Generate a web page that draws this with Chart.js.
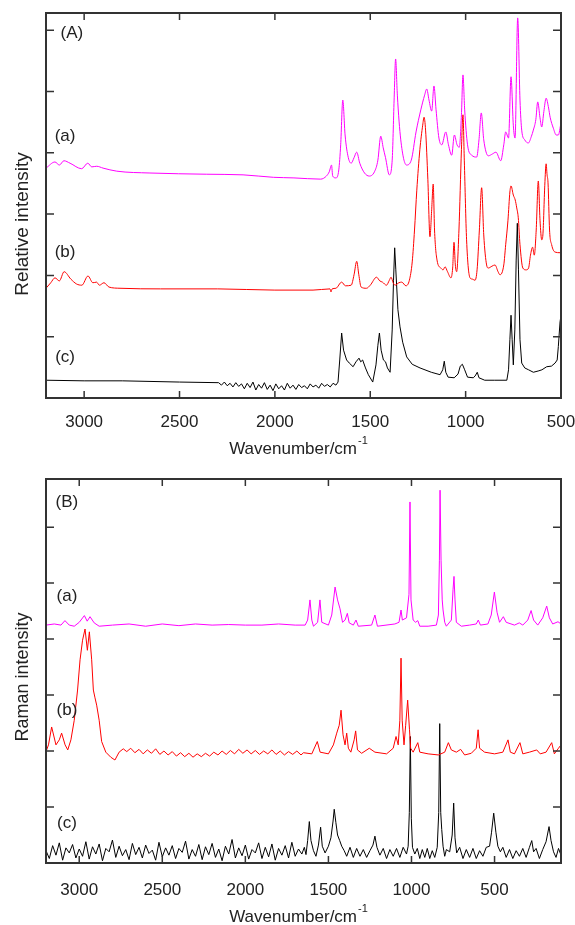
<!DOCTYPE html>
<html>
<head>
<meta charset="utf-8">
<script src="https://cdn.jsdelivr.net/npm/chart.js@4.4.1/dist/chart.umd.min.js"></script>
<style>
  html, body { margin: 0; padding: 0; background: #fff; }
  #wrap { position: relative; width: 575px; height: 925px; }
  canvas { position: absolute; left: 0; }
</style>
</head>
<body>
<div id="wrap">
  <canvas id="irChart" width="575" height="462" style="top:0"></canvas>
  <canvas id="ramanChart" width="575" height="463" style="top:462px"></canvas>
</div>
<script>
// ---- (A) IR spectra, offset traces (a) magenta, (b) red, (c) black ----
var irWnA = [3200, 3153, 3130, 3106, 3074, 3013, 2981, 2960, 2934, 2901, 2829, 2655, 2357, 2167, 2008, 1900, 1760, 1730, 1715, 1703, 1697, 1680, 1665, 1655, 1644, 1632, 1615, 1600, 1585, 1571, 1555, 1530, 1505, 1478, 1460, 1445, 1432, 1420, 1400, 1385, 1375, 1367, 1358, 1340, 1310, 1285, 1260, 1235, 1215, 1204, 1192, 1178, 1166, 1155, 1140, 1125, 1104, 1090, 1073, 1059, 1045, 1033, 1022, 1014, 1005, 990, 968, 942, 930, 918, 905, 881, 860, 841, 816, 800, 790, 775, 762, 750, 741, 727, 715, 706, 690, 671, 655, 645, 632, 622, 610, 601, 590, 578, 565, 557, 540, 525, 514, 500];
var irA = [3.75, 3.85, 3.80, 3.87, 3.83, 3.74, 3.83, 3.77, 3.78, 3.75, 3.70, 3.67, 3.65, 3.64, 3.60, 3.59, 3.57, 3.62, 3.69, 3.80, 3.62, 3.59, 3.72, 4.13, 4.86, 4.29, 3.92, 3.83, 3.92, 4.01, 3.83, 3.67, 3.62, 3.69, 3.88, 4.27, 4.08, 3.92, 3.64, 3.88, 4.86, 5.53, 4.94, 4.21, 3.80, 3.88, 4.34, 4.70, 4.94, 5.04, 4.86, 4.68, 5.09, 4.70, 4.24, 4.13, 4.34, 4.13, 3.96, 4.29, 4.13, 4.09, 4.62, 5.27, 4.70, 4.13, 3.96, 3.93, 4.21, 4.65, 4.21, 3.95, 3.98, 4.01, 3.87, 4.13, 4.34, 4.24, 5.24, 4.45, 4.24, 6.20, 4.86, 4.37, 4.21, 4.16, 4.27, 4.37, 4.54, 4.83, 4.57, 4.42, 4.67, 4.89, 4.73, 4.58, 4.40, 4.29, 4.29, 4.49];

var irWnB = [3200, 3175, 3153, 3130, 3105, 3070, 3040, 3012, 2980, 2954, 2935, 2920, 2896, 2870, 2812, 2600, 2300, 2000, 1800, 1711, 1706, 1700, 1680, 1650, 1630, 1600, 1585, 1571, 1560, 1548, 1520, 1500, 1467, 1450, 1436, 1415, 1400, 1391, 1380, 1370, 1350, 1335, 1313, 1295, 1280, 1268, 1256, 1240, 1225, 1218, 1210, 1198, 1187, 1178, 1170, 1163, 1150, 1130, 1118, 1108, 1095, 1077, 1068, 1061, 1054, 1047, 1035, 1022, 1014, 1007, 995, 977, 965, 951, 940, 928, 916, 905, 890, 881, 862, 846, 830, 820, 800, 790, 778, 768, 762, 750, 740, 732, 724, 715, 700, 683, 670, 660, 649, 640, 630, 619, 610, 601, 595, 585, 578, 573, 568, 560, 549, 531, 505, 500];
var irB = [1.79, 1.88, 1.96, 1.91, 2.06, 1.94, 1.86, 1.84, 1.99, 1.88, 1.89, 1.84, 1.88, 1.81, 1.79, 1.78, 1.78, 1.76, 1.76, 1.78, 1.73, 1.78, 1.79, 1.89, 1.83, 1.84, 2.01, 2.23, 2.01, 1.81, 1.79, 1.84, 1.97, 1.91, 1.89, 1.84, 1.92, 1.97, 1.88, 1.84, 1.88, 1.89, 1.83, 1.92, 2.22, 2.74, 3.39, 4.05, 4.45, 4.58, 4.37, 3.56, 2.63, 3.07, 3.49, 2.74, 2.25, 2.12, 2.09, 2.14, 2.06, 1.96, 2.12, 2.54, 2.17, 2.06, 2.74, 4.05, 4.62, 3.88, 2.58, 1.96, 1.94, 1.92, 2.09, 2.74, 3.43, 2.66, 2.17, 2.12, 2.15, 2.17, 2.06, 2.01, 2.17, 2.50, 2.90, 3.36, 3.46, 3.31, 3.23, 3.10, 2.94, 2.50, 2.12, 2.09, 2.12, 2.33, 2.46, 2.33, 2.74, 3.54, 2.90, 2.58, 2.66, 3.47, 3.82, 3.64, 3.51, 2.74, 2.50, 2.38, 2.37, 2.38];

var irWnC = [3200, 3000, 2800, 2500,
  2295, 2280, 2265, 2250, 2235, 2220, 2205, 2190, 2175, 2160, 2145, 2130, 2115, 2100, 2085, 2070, 2055, 2040, 2025, 2010,
  1995, 1980, 1965, 1950, 1935, 1920, 1905, 1890, 1875, 1860, 1845, 1830, 1815, 1800, 1785, 1770, 1755, 1740, 1725, 1710, 1695,
  1680, 1669, 1660, 1650, 1640, 1624, 1610, 1590, 1575, 1559, 1550, 1540, 1525, 1510, 1487, 1470, 1460, 1452, 1443, 1431, 1420, 1410, 1396, 1385, 1378, 1372, 1366, 1355, 1344, 1330, 1309, 1280, 1239, 1180, 1134, 1120, 1112, 1104, 1092, 1060, 1040, 1028, 1017, 1005, 990, 960, 950, 939, 930, 900, 850, 784, 775, 768, 762, 756, 750, 742, 735, 729, 723, 715, 706, 690, 670, 645, 620, 600, 575, 550, 531, 520, 514, 505, 500];
var irC = [0.29, 0.28, 0.28, 0.26,
  0.25, 0.21, 0.26, 0.20, 0.24, 0.18, 0.25, 0.19, 0.23, 0.15, 0.24, 0.17, 0.26, 0.13, 0.22, 0.16, 0.25, 0.14, 0.21, 0.12,
  0.23, 0.15, 0.20, 0.13, 0.24, 0.16, 0.21, 0.14, 0.22, 0.17, 0.20, 0.15, 0.23, 0.18, 0.21, 0.16, 0.24, 0.19, 0.22, 0.18, 0.24,
  0.21, 0.26, 0.62, 1.06, 0.78, 0.62, 0.57, 0.51, 0.59, 0.65, 0.59, 0.62, 0.49, 0.38, 0.26, 0.54, 0.86, 1.06, 0.78, 0.62, 0.59, 0.49, 0.42, 1.11, 1.92, 2.45, 2.09, 1.44, 1.16, 0.91, 0.67, 0.55, 0.49, 0.42, 0.38, 0.46, 0.60, 0.42, 0.34, 0.33, 0.39, 0.52, 0.55, 0.46, 0.34, 0.33, 0.36, 0.42, 0.33, 0.29, 0.29, 0.29, 0.46, 0.95, 1.35, 0.95, 0.54, 1.11, 2.25, 2.85, 2.09, 0.95, 0.57, 0.49, 0.46, 0.42, 0.44, 0.46, 0.51, 0.52, 0.57, 0.62, 0.84, 1.24, 1.35];

// ---- (B) Raman spectra ----
var ramWnA = [3200, 3150, 3110, 3086, 3060, 3030, 3000, 2969, 2952, 2935, 2910, 2880, 2800, 2700, 2600, 2500, 2400, 2300, 2200, 2100, 2000, 1900, 1800, 1700, 1640, 1625, 1611, 1600, 1590, 1565, 1551, 1540, 1500, 1480, 1460, 1445, 1430, 1415, 1400, 1386, 1375, 1350, 1334, 1320, 1240, 1220, 1205, 1100, 1075, 1063, 1055, 1030, 1015, 1009, 1003, 990, 975, 962, 950, 900, 850, 838, 832, 828, 822, 815, 810, 800, 790, 760, 750, 744, 738, 730, 700, 650, 610, 598, 585, 540, 520, 501, 485, 470, 447, 430, 380, 351, 330, 300, 280, 265, 240, 210, 186, 170, 150, 118, 100];
var ramA = [4.25, 4.27, 4.25, 4.33, 4.25, 4.23, 4.30, 4.42, 4.32, 4.40, 4.29, 4.23, 4.25, 4.27, 4.23, 4.27, 4.24, 4.27, 4.25, 4.26, 4.25, 4.25, 4.27, 4.25, 4.25, 4.34, 4.70, 4.34, 4.23, 4.30, 4.70, 4.30, 4.25, 4.43, 4.93, 4.70, 4.54, 4.30, 4.34, 4.46, 4.29, 4.25, 4.34, 4.23, 4.25, 4.43, 4.23, 4.27, 4.30, 4.52, 4.34, 4.38, 4.80, 6.45, 4.70, 4.34, 4.30, 4.33, 4.23, 4.23, 4.25, 4.43, 5.41, 6.66, 5.41, 4.70, 4.52, 4.30, 4.23, 4.34, 4.88, 5.12, 4.70, 4.30, 4.23, 4.25, 4.27, 4.34, 4.25, 4.27, 4.43, 4.84, 4.48, 4.30, 4.40, 4.30, 4.25, 4.29, 4.25, 4.34, 4.51, 4.34, 4.25, 4.38, 4.59, 4.38, 4.27, 4.31, 4.27];

var ramWnB = [3200, 3185, 3166, 3140, 3120, 3106, 3085, 3069, 3050, 3030, 3010, 2995, 2980, 2965, 2951, 2939, 2925, 2915, 2905, 2895, 2880, 2865, 2840, 2810, 2785,
  2760, 2735, 2714, 2690, 2665, 2640, 2615, 2590, 2565, 2540, 2515, 2490, 2465, 2440, 2415, 2390, 2365, 2340, 2315, 2290, 2265, 2240, 2215, 2190, 2165, 2140, 2115, 2090, 2065, 2040, 2015, 1990, 1965, 1940, 1915, 1890, 1865, 1840, 1815, 1790, 1765, 1740, 1715, 1690, 1665, 1650,
  1600, 1567, 1550, 1500, 1470, 1450, 1435, 1424, 1412, 1400, 1390, 1380, 1365, 1345, 1336, 1325, 1300, 1254, 1220, 1150, 1110, 1093, 1080, 1070, 1063, 1056, 1045, 1035, 1023, 1012, 1005, 990, 962, 950, 900, 838, 800, 778, 760, 730, 704, 680, 640, 610, 599, 590, 560, 500, 450, 419, 405, 380, 347, 330, 290, 246, 225, 190, 156, 140, 115, 100];
var ramB = [1.99, 2.11, 2.43, 2.11, 2.20, 2.32, 2.11, 2.02, 2.20, 2.55, 3.09, 3.63, 3.98, 4.18, 3.80, 4.13, 3.63, 3.09, 2.95, 2.82, 2.55, 2.17, 1.98, 1.89, 1.84,
  1.98, 2.04, 1.99, 2.05, 1.97, 2.03, 1.95, 2.02, 1.96, 2.04, 1.94, 2.00, 1.93, 1.99, 1.91, 1.97, 1.90, 1.96, 1.89, 1.95, 1.90, 1.96, 1.91, 1.98, 1.93, 2.00, 1.94, 2.01, 1.95, 2.03, 1.96, 2.02, 1.95, 2.01, 1.94, 2.00, 1.95, 2.02, 1.94, 2.00, 1.93, 1.99, 1.94, 2.00, 1.93, 1.97,
  1.95, 2.17, 1.98, 1.95, 2.11, 2.32, 2.46, 2.73, 2.29, 2.11, 2.32, 2.05, 1.98, 2.20, 2.36, 2.02, 1.96, 2.05, 1.98, 1.95, 2.05, 2.26, 2.11, 2.55, 3.66, 2.55, 2.11, 2.46, 2.91, 2.38, 2.05, 1.98, 2.15, 1.98, 1.95, 1.93, 1.98, 2.15, 2.02, 1.98, 2.03, 1.93, 1.96, 2.05, 2.38, 2.05, 1.98, 1.95, 1.98, 2.20, 1.98, 1.95, 2.15, 1.95, 1.98, 2.02, 1.95, 1.98, 2.15, 1.95, 2.05, 2.11];

var ramWnC = [3200, 3180, 3160, 3140, 3120, 3100, 3080, 3060, 3040, 3020,
  3000, 2980, 2960, 2940, 2920, 2900, 2880, 2860, 2840, 2820,
  2800, 2780, 2760, 2740, 2720, 2700, 2680, 2660, 2640, 2620,
  2600, 2580, 2560, 2540, 2520, 2500, 2480, 2460, 2440, 2420,
  2400, 2380, 2360, 2340, 2320, 2300, 2280, 2260, 2240, 2220,
  2200, 2180, 2160, 2140, 2120, 2100, 2080, 2060, 2040, 2020,
  2000, 1980, 1960, 1940, 1920, 1900, 1880, 1860, 1840, 1820,
  1800, 1780, 1760, 1740, 1720, 1700, 1680, 1660,
  1645, 1635, 1625, 1615, 1605, 1590, 1575, 1560, 1547, 1537, 1520, 1500, 1485, 1472, 1465, 1455, 1445, 1432, 1420, 1405, 1390, 1370, 1350, 1330, 1310, 1290, 1270, 1250, 1232, 1220, 1208, 1190, 1170, 1150, 1130, 1110, 1090, 1070, 1050, 1030, 1020, 1013, 1007, 1001, 994, 980, 965, 950, 935, 920, 905, 890, 875, 860, 845, 836, 830, 824, 818, 810, 800, 790, 770, 755, 746, 738, 728, 710, 690, 670, 650, 630, 610, 590, 570, 550, 530, 518, 505, 492, 480, 465, 450, 430, 410, 390, 370, 350, 330, 310, 290, 276, 265, 250, 230, 210, 190, 172, 160, 145, 130, 115, 100];
var ramC = [0.22, 0.08, 0.31, 0.14, 0.36, 0.05, 0.27, 0.18, 0.33, 0.09,
  0.25, 0.12, 0.38, 0.07, 0.29, 0.16, 0.34, 0.04, 0.26, 0.20,
  0.41, 0.10, 0.30, 0.13, 0.24, 0.06, 0.35, 0.15, 0.28, 0.09,
  0.32, 0.17, 0.23, 0.05, 0.37, 0.11, 0.27, 0.14, 0.31, 0.08,
  0.26, 0.19, 0.39, 0.07, 0.24, 0.12, 0.33, 0.06, 0.29, 0.15,
  0.35, 0.10, 0.25, 0.04, 0.30, 0.16, 0.42, 0.09, 0.27, 0.13,
  0.32, 0.07, 0.24, 0.18, 0.36, 0.08, 0.28, 0.11, 0.34, 0.05,
  0.26, 0.14, 0.31, 0.09, 0.37, 0.12, 0.25, 0.16,
  0.28, 0.15, 0.40, 0.74, 0.40, 0.22, 0.12, 0.32, 0.64, 0.30, 0.18,
  0.30, 0.45, 0.75, 0.96, 0.72, 0.50, 0.40, 0.30, 0.22, 0.12,
  0.28, 0.10, 0.26, 0.12, 0.24, 0.10, 0.22, 0.32, 0.48, 0.28,
  0.14, 0.26, 0.08, 0.24, 0.12, 0.26, 0.10, 0.28, 0.16, 0.30,
  0.90, 2.26, 0.80, 0.28, 0.16, 0.26, 0.08, 0.24, 0.10, 0.26,
  0.08, 0.22, 0.10, 0.28, 0.90, 2.49, 0.90, 0.60, 0.30, 0.12,
  0.24, 0.20, 0.50, 1.07, 0.45, 0.18, 0.28, 0.08, 0.24, 0.10,
  0.26, 0.08, 0.22, 0.12, 0.28, 0.30, 0.55, 0.89, 0.55, 0.30,
  0.20, 0.28, 0.10, 0.24, 0.08, 0.22, 0.12, 0.26, 0.10, 0.28,
  0.40, 0.20, 0.26, 0.08, 0.24, 0.38, 0.65, 0.40, 0.20, 0.10,
  0.26, 0.14];

var xTicks = [500, 1000, 1500, 2000, 2500, 3000];
var yTicks = [0, 1, 2, 3, 4, 5, 6];
var traceLabels = ["(a)", "(b)", "(c)"];

var FONT = "'Liberation Sans', Arial, sans-serif";
var TEXT = "#222";
var AXIS = "#333";

function pairs(xs, ys) {
  return xs.map(function (x, i) { return { x: x, y: ys[i] }; });
}

function trace(xs, ys, color, smooth) {
  var ds = {
    data: pairs(xs, ys),
    borderColor: color,
    borderWidth: 1,
    pointRadius: 0,
    fill: false,
    tension: 0
  };
  if (smooth) ds.cubicInterpolationMode = "monotone";
  return ds;
}

// frame with inward ticks, panel letters and axis titles
var spectrumDecor = {
  id: "spectrumDecor",
  afterDraw: function (chart, args, opts) {
    var ctx = chart.ctx;
    var a = chart.chartArea;
    var xs = chart.scales.x, ys = chart.scales.y;
    ctx.save();
    ctx.strokeStyle = AXIS;
    ctx.lineWidth = 1.5;
    ctx.beginPath();
    xTicks.forEach(function (v) {
      var px = xs.getPixelForValue(v);
      if (px <= a.left + 1 || px >= a.right - 1) return;
      ctx.moveTo(px, a.bottom); ctx.lineTo(px, a.bottom - 7);
      ctx.moveTo(px, a.top); ctx.lineTo(px, a.top + 7);
    });
    yTicks.forEach(function (v) {
      var py = ys.getPixelForValue(v);
      ctx.moveTo(a.left, py); ctx.lineTo(a.left + 8, py);
      ctx.moveTo(a.right, py); ctx.lineTo(a.right - 8, py);
    });
    ctx.stroke();
    ctx.lineWidth = 2;
    ctx.strokeRect(a.left, a.top, a.right - a.left, a.bottom - a.top);

    ctx.fillStyle = TEXT;
    ctx.font = "17px " + FONT;
    ctx.textAlign = "center";
    ctx.textBaseline = "middle";
    opts.labels.forEach(function (l) {
      ctx.fillText(l.text, xs.getPixelForValue(l.x), ys.getPixelForValue(l.y));
    });

    // y title
    ctx.save();
    ctx.translate(23, opts.yTitleY);
    ctx.rotate(-Math.PI / 2);
    ctx.font = opts.yTitleSize + "px " + FONT;
    ctx.fillText(opts.yTitle, 0, 0);
    ctx.restore();

    // x title with superscript
    var main = "Wavenumber/cm", sup = "-1";
    ctx.font = "17px " + FONT;
    var w1 = ctx.measureText(main).width;
    ctx.font = "11px " + FONT;
    var w2 = ctx.measureText(sup).width;
    var cx = (a.left + a.right) / 2 - 5;
    var x0 = cx - (w1 + w2 + 1) / 2;
    var ty = a.bottom + opts.xTitleOffset;
    ctx.textAlign = "left";
    ctx.font = "17px " + FONT;
    ctx.fillText(main, x0, ty);
    ctx.font = "11px " + FONT;
    ctx.fillText(sup, x0 + w1 + 1, ty - 8);
    ctx.restore();
  }
};

function makeChart(id, sets, cfg) {
  return new Chart(document.getElementById(id).getContext("2d"), {
    type: "line",
    data: { datasets: sets },
    plugins: [spectrumDecor],
    options: {
      responsive: false,
      animation: false,
      devicePixelRatio: 1,
      layout: { padding: { left: 46, right: 14, top: cfg.top, bottom: 0 } },
      scales: {
        x: {
          type: "linear",
          reverse: true,
          min: cfg.xMin,
          max: cfg.xMax,
          grid: { display: false },
          border: { display: false },
          afterBuildTicks: function (scale) {
            scale.ticks = xTicks.map(function (v) { return { value: v }; });
          },
          afterFit: function (scale) { scale.height = cfg.xHeight; },
          ticks: {
            autoSkip: false,
            maxRotation: 0,
            padding: cfg.tickPad,
            color: TEXT,
            font: { family: FONT, size: 17, lineHeight: 1.2 },
            callback: function (v) { return String(v); }
          }
        },
        y: {
          display: false,
          min: 0,
          max: cfg.yMax
        }
      },
      plugins: {
        legend: { display: false },
        tooltip: { enabled: false },
        spectrumDecor: {
          labels: cfg.labels,
          yTitle: cfg.yTitle,
          yTitleY: cfg.yTitleY,
          yTitleSize: cfg.yTitleSize,
          xTitleOffset: cfg.xTitleOffset
        }
      }
    }
  });
}

makeChart("irChart", [
  trace(irWnA, irA, "#ff00ff", true),
  trace(irWnB, irB, "#ff0000", true),
  trace(irWnC, irC, "#000000", false)
], {
  top: 13, xMin: 500, xMax: 3200, yMax: 6.28, xHeight: 64, tickPad: 6,
  yTitle: "Relative intensity", yTitleY: 224, yTitleSize: 19, xTitleOffset: 51,
  labels: [
    { text: "(A)", x: 3064, y: 5.95 },
    { text: traceLabels[0], x: 3100, y: 4.27 },
    { text: traceLabels[1], x: 3100, y: 2.38 },
    { text: traceLabels[2], x: 3100, y: 0.67 }
  ]
});

makeChart("ramanChart", [
  trace(ramWnA, ramA, "#ff00ff", false),
  trace(ramWnB, ramB, "#ff0000", false),
  trace(ramWnC, ramC, "#000000", false)
], {
  top: 17, xMin: 100, xMax: 3200, yMax: 6.86, xHeight: 62, tickPad: 9,
  yTitle: "Raman intensity", yTitleY: 215, yTitleSize: 18, xTitleOffset: 54,
  labels: [
    { text: "(B)", x: 3074, y: 6.45 },
    { text: traceLabels[0], x: 3074, y: 4.77 },
    { text: traceLabels[1], x: 3074, y: 2.73 },
    { text: traceLabels[2], x: 3074, y: 0.71 }
  ]
});
</script>
</body>
</html>
